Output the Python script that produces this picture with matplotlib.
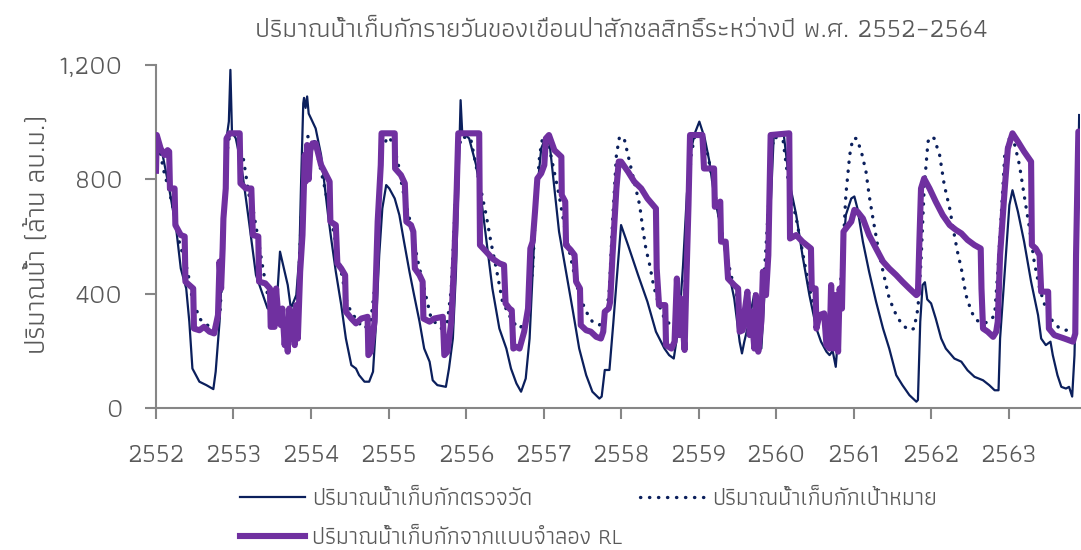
import numpy as np
import matplotlib
matplotlib.use("Agg")
import matplotlib.pyplot as plt
from matplotlib.ticker import FuncFormatter

plt.rcParams['font.family'] = ['Athiti', 'DejaVu Sans']

# ---- data (years in B.E.) ----
measured_t = [0.0, 0.086, 0.17, 0.26, 0.32, 0.39, 0.43, 0.47, 0.56, 0.65, 0.74, 0.77, 0.82, 0.85, 0.88, 0.91, 0.94, 0.96, 0.98,
              1.03, 1.10, 1.16, 1.20, 1.29, 1.38, 1.44, 1.57, 1.60, 1.66, 1.70, 1.74, 1.81, 1.85, 1.87, 1.90, 1.91, 1.93, 1.95, 1.97,
              2.0, 2.06, 2.13, 2.17, 2.22, 2.26, 2.32, 2.39, 2.45, 2.52, 2.58, 2.62, 2.69, 2.75, 2.80, 2.84, 2.88, 2.92, 2.97,
              3.01, 3.08, 3.14, 3.20, 3.27, 3.33, 3.40, 3.46, 3.53, 3.57, 3.63, 3.74, 3.78, 3.83, 3.87, 3.90, 3.93, 3.95,
              4.04, 4.13, 4.19, 4.26, 4.34, 4.43, 4.52, 4.58, 4.65, 4.71, 4.77, 4.82, 4.86, 4.90, 4.97,
              5.03, 5.08, 5.14, 5.20, 5.29, 5.38, 5.46, 5.55, 5.63, 5.72, 5.75, 5.79, 5.85, 5.90, 5.94,
              6.0, 6.09, 6.22, 6.34, 6.45, 6.56, 6.62, 6.68, 6.75, 6.80, 6.85, 6.90, 6.95,
              7.01, 7.08, 7.14, 7.20, 7.29, 7.38, 7.46, 7.53, 7.56, 7.59, 7.63, 7.72, 7.76, 7.81, 7.85, 7.89, 7.94, 7.97,
              8.10, 8.17, 8.26, 8.34, 8.43, 8.52, 8.58, 8.65, 8.69, 8.73, 8.77, 8.82, 8.86, 8.90, 8.97,
              9.01, 9.05, 9.12, 9.20, 9.29, 9.38, 9.46, 9.55, 9.63, 9.72, 9.81, 9.83, 9.86, 9.89, 9.92, 9.95,
              10.0, 10.06, 10.13, 10.19, 10.30, 10.39, 10.47, 10.56, 10.67, 10.75, 10.82, 10.87, 10.89, 10.95,
              11.01, 11.05, 11.12, 11.20, 11.29, 11.38, 11.42, 11.48, 11.54, 11.57, 11.63, 11.68, 11.74, 11.78, 11.82, 11.85,
              11.89, 11.91]
measured_v = [955, 885, 768, 628, 488, 418, 302, 138, 92, 80, 66, 127, 302, 477, 652, 943, 1002, 1183, 967,
              943, 850, 733, 652, 465, 395, 348, 418, 547, 477, 430, 348, 395, 535, 768, 1066, 1085, 1050, 1090, 1030,
              1013, 978, 885, 792, 675, 593, 477, 360, 243, 150, 138, 115, 92, 92, 127, 302, 535, 698, 780,
              768, 733, 675, 582, 477, 395, 302, 208, 162, 97, 80, 74, 138, 243, 477, 768, 1077, 967,
              943, 850, 745, 593, 418, 278, 208, 138, 86, 57, 103, 243, 477, 710, 908,
              949, 920, 768, 617, 477, 337, 208, 115, 57, 33, 40, 133, 133, 297, 437,
              640, 570, 465, 372, 267, 208, 185, 173, 300, 500, 750, 900, 960,
              1002, 943, 862, 745, 628, 488, 383, 232, 191, 232, 278, 400, 232, 208, 395, 477, 768, 955,
              955, 792, 675, 535, 395, 278, 232, 197, 185, 200, 144, 325, 535, 675, 733,
              740, 698, 582, 477, 372, 278, 208, 115, 80, 45, 22, 28, 302, 430, 440, 380,
              366, 313, 243, 208, 173, 162, 132, 109, 97, 80, 62, 62, 243, 477,
              710, 762, 687, 582, 442, 325, 243, 220, 232, 185, 115, 74, 68, 74, 40, 185,
              652, 1025]

target_t = [0.0, 0.05, 0.10, 0.17, 0.26, 0.30, 0.41, 0.46, 0.56, 0.63, 0.73, 0.80, 0.83, 0.86, 0.88, 0.91, 0.95,
            1.03, 1.12, 1.16, 1.20, 1.25, 1.31, 1.38, 1.44, 1.52, 1.62, 1.72, 1.80, 1.84, 1.88, 1.92, 1.96,
            2.04, 2.17, 2.30, 2.39, 2.47, 2.60, 2.69, 2.77, 2.82, 2.88, 2.92, 2.99,
            3.05, 3.12, 3.18, 3.27, 3.38, 3.46, 3.55, 3.68, 3.76, 3.81, 3.85, 3.89, 3.94,
            4.06, 4.17, 4.26, 4.32, 4.39, 4.47, 4.60, 4.69, 4.80, 4.86, 4.90, 4.95, 4.99,
            5.05, 5.12, 5.20, 5.29, 5.38, 5.46, 5.55, 5.63, 5.72, 5.81, 5.85, 5.89, 5.94, 5.98,
            6.04, 6.11, 6.17, 6.24, 6.28, 6.32, 6.37, 6.41, 6.45, 6.52, 6.58, 6.67, 6.76, 6.82, 6.86, 6.90, 6.95,
            7.05, 7.12, 7.20, 7.29, 7.38, 7.46, 7.55, 7.63, 7.76, 7.82, 7.85, 7.89, 7.94, 7.97,
            8.09, 8.17, 8.26, 8.34, 8.43, 8.52, 8.60, 8.69, 8.80, 8.86, 8.90, 8.95, 8.99,
            9.04, 9.10, 9.16, 9.20, 9.25, 9.31, 9.38, 9.46, 9.55, 9.63, 9.72, 9.78, 9.83, 9.87, 9.91, 9.96,
            10.00, 10.04, 10.11, 10.17, 10.24, 10.30, 10.34, 10.39, 10.45, 10.52, 10.58, 10.67, 10.75, 10.82, 10.86, 10.90, 10.95,
            11.01, 11.08, 11.14, 11.20, 11.27, 11.33, 11.40, 11.48, 11.57, 11.66, 11.74, 11.81, 11.91]
target_v = [950, 900, 830, 760, 652, 582, 477, 395, 313, 296, 278, 300, 348, 535, 710, 885, 955,
            955, 885, 815, 745, 698, 605, 488, 395, 320, 300, 290, 320, 450, 700, 900, 950,
            937, 780, 605, 477, 360, 302, 278, 302, 418, 710, 908, 949,
            932, 862, 768, 663, 512, 418, 313, 278, 302, 418, 652, 885, 949,
            943, 792, 675, 582, 488, 372, 302, 278, 313, 488, 710, 885, 949,
            943, 850, 745, 605, 488, 395, 337, 302, 290, 325, 418, 652, 885, 949,
            943, 862, 792, 710, 628, 558, 500, 442, 395, 337, 302, 290, 300, 400, 650, 880, 950,
            950, 885, 768, 628, 512, 418, 348, 313, 302, 380, 477, 652, 885, 949,
            937, 768, 663, 547, 418, 325, 302, 290, 325, 535, 745, 885, 943,
            943, 897, 827, 745, 663, 570, 477, 383, 325, 290, 272, 278, 348, 512, 768, 932,
            950, 943, 885, 780, 698, 605, 547, 488, 395, 337, 308, 296, 302, 325, 477, 652, 885,
            943, 920, 850, 745, 628, 512, 418, 348, 302, 278, 272, 278, 280]

rl_t = [0.0, 0.01, 0.06, 0.11, 0.15, 0.17, 0.18, 0.24, 0.25, 0.32, 0.37, 0.38, 0.43, 0.48, 0.49, 0.56, 0.62, 0.69, 0.75,
        0.80, 0.82, 0.84, 0.86, 0.87, 0.90, 0.91, 0.95,
        1.08, 1.09, 1.16, 1.23, 1.25, 1.32, 1.33, 1.41, 1.47, 1.48, 1.53, 1.55, 1.58, 1.61, 1.63, 1.66, 1.68, 1.70,
        1.72, 1.74, 1.76, 1.79, 1.81, 1.83, 1.86, 1.89, 1.92, 1.93, 1.95, 1.97, 1.99,
        2.02, 2.06, 2.13, 2.24, 2.25, 2.32, 2.34, 2.39, 2.44, 2.45, 2.52, 2.58, 2.65, 2.73, 2.74, 2.77, 2.82, 2.86, 2.90, 2.91,
        3.08, 3.085, 3.16, 3.21, 3.23, 3.29, 3.32, 3.34, 3.40, 3.44, 3.45, 3.53, 3.59, 3.70, 3.72, 3.76, 3.81, 3.85, 3.88, 3.90,
        4.17, 4.18, 4.26, 4.34, 4.43, 4.49, 4.51, 4.56, 4.59, 4.61, 4.65, 4.69, 4.75, 4.80, 4.83, 4.86, 4.89, 4.92, 4.97,
        5.01, 5.03, 5.07, 5.14, 5.23, 5.235, 5.28, 5.29, 5.35, 5.40, 5.42, 5.47, 5.48, 5.55, 5.61, 5.68, 5.74, 5.77, 5.79,
        5.84, 5.86, 5.89, 5.94, 5.97,
        6.0, 6.09, 6.17, 6.26, 6.34, 6.45, 6.46, 6.49, 6.57, 6.58, 6.65, 6.69, 6.72, 6.75, 6.77, 6.82, 6.84, 6.87, 6.89,
        7.05, 7.07, 7.20, 7.21, 7.28, 7.29, 7.35, 7.38, 7.46, 7.51, 7.53, 7.57, 7.60, 7.63, 7.66, 7.68, 7.72, 7.74, 7.77,
        7.81, 7.83, 7.87, 7.90, 7.93,
        8.17, 8.18, 8.26, 8.34, 8.45, 8.46, 8.51, 8.52, 8.56, 8.62, 8.65, 8.69, 8.71, 8.74, 8.77, 8.80, 8.82, 8.85, 8.87,
        8.92, 8.97, 9.01, 9.05, 9.12, 9.20, 9.29, 9.38, 9.46, 9.55, 9.63, 9.72, 9.81, 9.83, 9.85, 9.87, 9.91, 9.98,
        10.06, 10.15, 10.24, 10.32, 10.39, 10.47, 10.56, 10.64, 10.65, 10.67, 10.73, 10.80, 10.84, 10.86, 10.89, 10.95, 10.99,
        11.05, 11.12, 11.20, 11.29, 11.30, 11.35, 11.40, 11.42, 11.51, 11.52, 11.59, 11.72, 11.83, 11.86, 11.87, 11.90, 11.92]
rl_v = [830, 955, 908, 885, 902, 897, 768, 768, 640, 605, 600, 442, 430, 418, 278, 272, 284, 267, 261,
        325, 512, 418, 558, 663, 768, 943, 961,
        961, 786, 768, 768, 605, 600, 442, 436, 418, 284, 284, 418, 313, 290, 348, 220, 302, 197,
        348, 243, 337, 220, 360, 243, 477, 605, 885, 792, 920, 800, 900,
        926, 926, 850, 792, 652, 640, 506, 488, 465, 337, 313, 296, 313, 319, 185, 197, 302, 652, 850, 961,
        961, 838, 815, 786, 652, 640, 617, 488, 465, 442, 313, 302, 313, 319, 185, 197, 302, 535, 768, 961,
        961, 570, 547, 523, 506, 500, 366, 348, 342, 208, 214, 208, 267, 348, 558, 582, 687, 803, 821,
        850, 943, 955, 902, 879, 745, 722, 570, 553, 535, 442, 418, 290, 272, 267, 249, 243, 267, 337,
        348, 372, 535, 768, 862,
        862, 827, 792, 768, 733, 698, 488, 360, 360, 220, 208, 232, 453, 255, 383, 203, 418, 710, 955,
        955, 838, 838, 704, 722, 582, 582, 453, 430, 418, 267, 272, 348, 407, 255, 337, 208, 395, 197,
        302, 477, 395, 535, 955,
        961, 593, 605, 582, 558, 418, 418, 278, 325, 331, 220, 208, 430, 208, 395, 197, 418, 348, 617,
        635, 652, 693, 687, 663, 605, 558, 512, 488, 465, 442, 418, 395, 400, 593, 768, 803, 768,
        722, 675, 640, 623, 611, 588, 570, 558, 418, 278, 267, 249, 267, 302, 535, 768, 908,
        961, 932, 897, 862, 570, 558, 535, 407, 407, 278, 255, 243, 232, 260, 535, 967, 967]

start_year = 2552
year_ticks = list(range(2552, 2564))
y_ticks = [0, 400, 800, 1200]

title = "ปริมาณน้ำเก็บกักรายวันของเขื่อนป่าสักชลสิทธิ์ระหว่างปี พ.ศ. 2552–2564"
ylabel = "ปริมาณน้ำ (ล้าน ลบ.ม.)"
labels = ["ปริมาณน้ำเก็บกักตรวจวัด", "ปริมาณน้ำเก็บกักเป้าหมาย", "ปริมาณน้ำเก็บกักจากแบบจำลอง RL"]

navy = "#0B1F5C"
purple = "#7030A0"
grey = "#595959"

fig = plt.figure(figsize=(10.81, 5.5), dpi=100)
ax = fig.add_axes([0.1443, 0.2582, 0.8547, 0.6236])

l1, = ax.plot(start_year + np.array(measured_t), measured_v, color=navy, lw=1.6, label=labels[0], zorder=3)
l2, = ax.plot(start_year + np.array(target_t), target_v, color=navy, lw=2.4,
              linestyle=(0, (0.1, 2.6)), dash_capstyle="round", label=labels[1], zorder=2)
l3, = ax.plot(start_year + np.array(rl_t), rl_v, color=purple, lw=4.4, solid_joinstyle="round",
              label=labels[2], zorder=4)

ax.set_xlim(2552, 2563.92)
ax.set_ylim(0, 1200)
ax.set_xticks(year_ticks)
ax.set_yticks(y_ticks)
ax.yaxis.set_major_formatter(FuncFormatter(lambda v, p: f"{int(v):,}"))

for s in ["top", "right"]:
    ax.spines[s].set_visible(False)
for s in ["left", "bottom"]:
    ax.spines[s].set_color("#868686")
    ax.spines[s].set_linewidth(1.5)
ax.tick_params(axis="both", colors="#868686", width=1.5, length=8, labelcolor=grey, labelsize=19)
ax.tick_params(axis="x", pad=18)
ax.tick_params(axis="y", pad=16)

fig.text(38 / 1081, 1 - 234 / 550, ylabel, rotation=90, ha="center", va="center", fontsize=20, color=grey)
fig.text(0.575, 0.945, title, ha="center", va="center", fontsize=19.3, color=grey)

fig.legend([l1, l3, l2], [labels[0], labels[2], labels[1]], ncol=2, loc="upper left",
           bbox_to_anchor=(0.222, 0.112), frameon=False, fontsize=17, labelcolor=grey,
           handlelength=2.75, columnspacing=0.75, handletextpad=0.3, labelspacing=0.8,
           borderaxespad=0, borderpad=0)

fig.savefig("out.png", dpi=100)
